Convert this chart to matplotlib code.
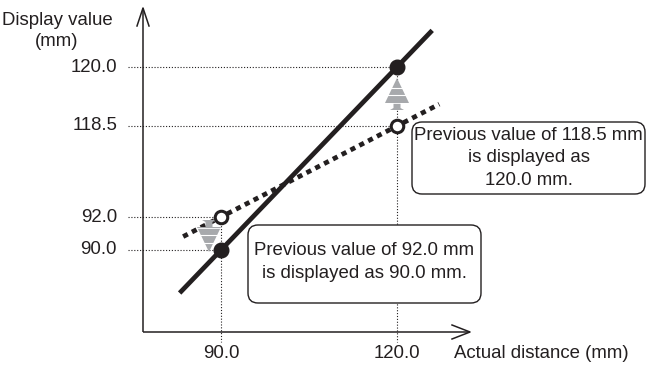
import numpy as np
import matplotlib
matplotlib.use("Agg")
import matplotlib.pyplot as plt
from matplotlib.patches import FancyBboxPatch, Polygon

plt.rcParams['font.family'] = ['Liberation Sans', 'DejaVu Sans']

# ---- data ----
actual_ticks = [90.0, 120.0]
display_ticks = [120.0, 118.5, 92.0, 90.0]
actual_points = [90.0, 120.0]
display_points = [90.0, 120.0]          # displayed value (solid line)
previous_points = [92.0, 118.5]         # previous value (dotted line)
tick_labels_x = ["90.0", "120.0"]
tick_labels_y = ["120.0", "118.5", "92.0", "90.0"]
xlabel = "Actual distance (mm)"
ylabel = "Display value\n(mm)"
note_high = "Previous value of 118.5 mm\nis displayed as\n120.0 mm."
note_low = "Previous value of 92.0 mm\nis displayed as 90.0 mm."

# ---- schematic layout (pixel positions of the tick values) ----
W, H = 647, 366
x_pix = [221, 397]
y_vals_sorted = [90.0, 92.0, 118.5, 120.0]
y_pix_sorted = [250, 217, 126, 67]

def px(v):
    return float(np.interp(v, actual_ticks, x_pix))

def py(v):
    return float(np.interp(v, y_vals_sorted, y_pix_sorted))

fig = plt.figure(figsize=(W / 100, H / 100), dpi=100)
ax = fig.add_axes([0, 0, 1, 1])
ax.set_xlim(0, W)
ax.set_ylim(H, 0)
ax.axis('off')

ink = '#231f20'
ox, oy = 143, 332
FS = 13.4

# axes with open arrowheads
ax.plot([ox, ox], [oy, 8], color=ink, lw=1.1, solid_capstyle='butt')
ax.plot([ox, 470], [oy, oy], color=ink, lw=1.1, solid_capstyle='butt')
ax.plot([ox - 6, ox, ox + 6], [26, 8, 26], color=ink, lw=1.1)
ax.plot([452, 470, 452], [oy - 7, oy, oy + 7], color=ink, lw=1.1)

# guide dotted lines
guide = dict(color=ink, lw=0.8, linestyle=(0, (1, 1.6)))
for xa, yd, yp in zip(actual_points, display_points, previous_points):
    ax.plot([128, px(xa)], [py(yd), py(yd)], **guide)
    ax.plot([128, px(xa)], [py(yp), py(yp)], **guide)
    ax.plot([px(xa), px(xa)], [min(py(yd), py(yp)), 342], **guide)

# tick labels
for lab, v in zip(tick_labels_y, display_ticks):
    ax.text(117, py(v), lab, ha='right', va='center', fontsize=FS, color=ink)
for lab, v in zip(tick_labels_x, actual_ticks):
    ax.text(px(v), 354, lab, ha='center', va='center', fontsize=FS, color=ink)
ax.text(541, 354, xlabel, ha='center', va='center', fontsize=FS, color=ink)
ax.text(57, 31, ylabel, ha='center', va='center', fontsize=FS, color=ink,
        linespacing=1.3)

# solid line (displayed value), extended beyond the points
x0, x1 = px(actual_points[0]), px(actual_points[1])
y0, y1 = py(display_points[0]), py(display_points[1])
t = np.array([-0.235, 1.2])
ax.plot(x0 + t * (x1 - x0), y0 + t * (y1 - y0), color=ink, lw=3.4,
        solid_capstyle='butt', zorder=3)

# dotted line (previous value)
y0p, y1p = py(previous_points[0]), py(previous_points[1])
t = np.array([-0.215, 1.24])
ax.plot(x0 + t * (x1 - x0), y0p + t * (y1p - y0p), color=ink, lw=3.4,
        linestyle=(0, (1.1, 1.0)), zorder=3)

gray = '#a7a9ac'

def tree_arrow(cx, tip, base, up=True):
    s = 1 if up else -1   # +1: base is below tip in pixel coords
    hw = 12
    pts = [(cx, tip), (cx + hw, base), (cx - hw, base)]
    ax.add_patch(Polygon(pts, closed=True, fc=gray, ec='none', zorder=4))
    # stem with small feet
    stem_end = base + s * 7
    ax.add_patch(Polygon([(cx - 3.5, base), (cx + 3.5, base),
                          (cx + 3.5, stem_end - s * 2), (cx + 7, stem_end),
                          (cx - 7, stem_end), (cx - 3.5, stem_end - s * 2)],
                         closed=True, fc=gray, ec='none', zorder=4))
    # white separators for the layered look
    for frac in (0.38, 0.68):
        yy = tip + (base - tip) * frac
        w = hw * frac
        ax.plot([cx - w - 1, cx + w + 1], [yy, yy], color='white', lw=0.8, zorder=5)
    ax.plot([cx - hw, cx + hw], [base - s * 0.5, base - s * 0.5], color='white', lw=0.6, zorder=5)

tree_arrow(397, 78, 103, up=True)
tree_arrow(209, 252, 227, up=False)

# markers
ax.plot([px(a) for a in actual_points], [py(d) for d in display_points], 'o',
        ms=10.5, color=ink, zorder=6)
ax.plot([px(a) for a in actual_points], [py(p) for p in previous_points], 'o',
        ms=9, mfc='white', mec=ink, mew=2.2, zorder=6)

# note boxes
def note(x, y, w, h, txt, ty, ls):
    ax.add_patch(FancyBboxPatch((x, y), w, h,
                                boxstyle='round,pad=0,rounding_size=10',
                                fc='white', ec=ink, lw=1.0, zorder=7))
    ax.text(x + w / 2, ty, txt, ha='center', va='center', fontsize=FS,
            color=ink, linespacing=ls, zorder=8)

note(412, 122, 233, 72, note_high, 158, 1.4)
note(248, 225, 233, 78, note_low, 262, 1.4)

fig.savefig('out.png', dpi=100)
